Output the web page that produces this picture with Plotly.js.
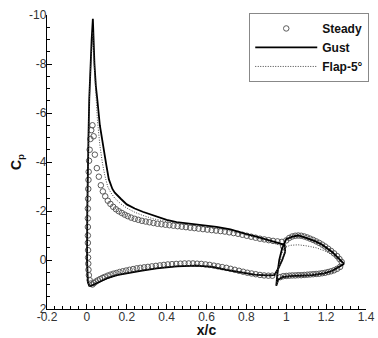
<!DOCTYPE html>
<html>
<head>
<meta charset="utf-8">
<script src="https://cdn.plot.ly/plotly-3.0.1.min.js"></script>
<style>
  html, body { margin: 0; padding: 0; background: #fff; }
  #chart { width: 378px; height: 338px; }
</style>
</head>
<body>
<div id="chart"></div>
<script>
// ---------- Data ----------
// Steady (open circles): main element, then flap
const steadyMainX = [
  0.978,0.956,0.934,0.912,0.890,0.868,0.846,0.824,0.802,0.780,0.758,0.736,0.714,0.692,0.670,0.648,0.626,0.604,0.582,0.560,
  0.539,0.518,0.497,0.476,0.455,0.434,0.414,0.394,0.374,0.354,0.334,0.314,0.295,0.276,0.258,0.240,0.222,0.205,0.190,0.175,
  0.160,0.146,0.132,0.118,0.105,0.092,0.080,0.070,0.060,0.050,0.040,0.034,0.028,0.022,
  0.018,0.014,0.011,0.009,0.008,0.007,0.006,0.005,0.005,0.005,0.005,0.005,0.006,0.006,0.007,0.008,0.010,0.014,0.020,
  0.028,0.036,0.045,0.055,0.066,0.078,0.090,0.104,0.118,0.133,0.148,0.164,0.180,0.197,0.214,0.232,0.250,0.268,0.287,0.306,
  0.326,0.346,0.366,0.386,0.406,0.427,0.448,0.469,0.490,0.511,0.532,0.553,0.574,0.595,0.616,0.637,0.658,0.679,0.700,0.721,
  0.742,0.763,0.784,0.805,0.826,0.847,0.868,0.889,0.910,0.930
];
const steadyMainCp = [
  -0.74,-0.76,-0.78,-0.81,-0.84,-0.87,-0.91,-0.95,-0.99,-1.03,-1.07,-1.10,-1.13,-1.16,-1.18,-1.20,-1.22,-1.24,-1.26,-1.28,
  -1.30,-1.32,-1.34,-1.36,-1.38,-1.40,-1.42,-1.44,-1.46,-1.48,-1.51,-1.54,-1.57,-1.60,-1.64,-1.68,-1.73,-1.79,-1.85,-1.92,
  -1.99,-2.07,-2.17,-2.29,-2.42,-2.60,-2.80,-3.05,-3.40,-3.75,-4.30,-5.05,-5.50,-5.30,
  -4.94,-4.50,-4.05,-3.60,-3.27,-2.90,-2.50,-2.10,-1.70,-1.35,-1.00,-0.70,-0.40,-0.10,0.15,0.40,0.62,0.82,0.96,
  1.00,0.94,0.88,0.83,0.78,0.73,0.69,0.64,0.60,0.56,0.53,0.49,0.46,0.43,0.40,0.37,0.34,0.32,0.30,0.28,
  0.26,0.24,0.22,0.20,0.18,0.17,0.16,0.15,0.14,0.14,0.14,0.15,0.16,0.18,0.20,0.23,0.26,0.29,0.32,0.36,
  0.40,0.44,0.48,0.52,0.55,0.58,0.61,0.63,0.64,0.64
];
const steadyFlapX = [
  0.985,1.000,1.015,1.030,1.045,1.060,1.075,1.090,1.105,1.120,1.135,1.150,1.165,1.180,1.195,1.210,1.225,1.240,1.255,1.267,1.278,
  1.270,1.255,1.240,1.225,1.210,1.195,1.180,1.165,1.150,1.135,1.120,1.105,1.090,1.075,1.060,1.045,1.030,1.015,1.000,0.985,0.970
];
const steadyFlapCp = [
  -0.55,-0.80,-0.90,-0.96,-0.99,-1.00,-0.99,-0.96,-0.92,-0.87,-0.82,-0.76,-0.70,-0.63,-0.55,-0.46,-0.37,-0.27,-0.16,-0.04,0.08,
  0.28,0.36,0.42,0.46,0.49,0.52,0.54,0.56,0.57,0.58,0.59,0.60,0.61,0.62,0.62,0.63,0.63,0.64,0.65,0.66,0.70
];

// Gust (solid line): main element upper TE -> LE -> lower TE, then flap
const gustMainX = [
  0.995,0.990,0.950,0.900,0.850,0.800,0.720,0.650,0.580,0.520,0.450,0.400,0.340,0.280,0.240,0.200,0.170,0.140,0.128,0.110,
  0.098,0.086,0.075,0.065,0.053,0.045,0.038,0.033,0.030,
  0.024,0.017,0.012,0.008,0.004,0.002,0.001,0.002,0.005,0.012,
  0.020,0.040,0.070,0.100,0.150,0.200,0.270,0.350,0.450,0.550,0.630,0.700,0.770,0.840,0.900,0.940,0.960,0.980,0.995
];
const gustMainCp = [
  -0.35,-0.62,-0.72,-0.85,-0.95,-1.06,-1.25,-1.35,-1.42,-1.48,-1.55,-1.64,-1.80,-1.97,-2.10,-2.27,-2.50,-2.75,-2.90,-3.30,
  -3.85,-4.50,-5.00,-5.50,-6.50,-7.10,-8.00,-9.00,-9.85,
  -9.00,-7.90,-6.60,-5.00,-3.40,-2.00,0.00,0.60,0.90,1.05,
  1.05,0.98,0.86,0.75,0.62,0.54,0.44,0.34,0.26,0.23,0.28,0.40,0.50,0.60,0.63,0.62,0.35,0.00,-0.35
];
const gustFlapX = [
  1.290,1.270,1.230,1.180,1.150,1.100,1.060,1.030,1.000,0.980,0.965,0.955,0.950,
  0.960,0.980,1.020,1.070,1.130,1.190,1.230,1.260,1.290
];
const gustFlapCp = [
  0.16,0.00,-0.33,-0.62,-0.75,-0.90,-1.00,-0.95,-0.85,-0.50,0.00,0.60,1.05,
  0.80,0.70,0.66,0.64,0.62,0.55,0.45,0.30,0.16
];

// Flap-5° (dotted line): main element, then flap
const flapMainX = [
  0.995,0.990,0.900,0.800,0.700,0.600,0.500,0.400,0.334,0.280,0.240,0.200,0.169,0.140,0.120,0.105,0.090,0.078,0.065,0.053,
  0.043,0.036,0.030,
  0.024,0.017,0.012,0.008,0.004,0.002,0.001,0.002,0.005,0.012,
  0.020,0.040,0.070,0.100,0.150,0.200,0.270,0.350,0.450,0.550,0.630,0.700,0.770,0.840,0.900,0.940,0.960,0.980,0.995
];
const flapMainCp = [
  -0.30,-0.55,-0.78,-1.02,-1.22,-1.35,-1.45,-1.57,-1.68,-1.82,-1.95,-2.12,-2.30,-2.52,-2.75,-2.98,-3.45,-3.95,-4.70,-5.70,
  -6.90,-8.10,-9.30,
  -8.60,-7.60,-6.40,-4.90,-3.30,-1.90,0.00,0.60,0.90,1.04,
  1.04,0.96,0.84,0.73,0.60,0.52,0.42,0.32,0.24,0.21,0.26,0.38,0.48,0.58,0.62,0.61,0.35,0.00,-0.30
];
const flapFlapX = [
  1.280,1.240,1.200,1.150,1.100,1.060,1.020,0.990,0.975,0.960,0.950,
  0.970,1.000,1.100,1.200,1.250,1.280
];
const flapFlapCp = [
  0.12,-0.15,-0.35,-0.50,-0.58,-0.62,-0.60,-0.50,-0.20,0.40,1.00,
  0.72,0.68,0.64,0.55,0.40,0.12
];

// Axis ticks
const xTickVals = [-0.2, 0, 0.2, 0.4, 0.6, 0.8, 1, 1.2, 1.4];
const xTickText = ["-0.2", "0", "0.2", "0.4", "0.6", "0.8", "1", "1.2", "1.4"];
const yTickVals = [-10, -8, -6, -4, -2, 0, 2];
const yTickText = ["-10", "-8", "-6", "-4", "-2", "0", "2"];

// ---------- Build traces ----------
const joinParts = (a, b) => a.concat([null], b);

const traces = [
  {
    name: "Steady",
    x: joinParts(steadyMainX, steadyFlapX),
    y: joinParts(steadyMainCp, steadyFlapCp),
    mode: "markers",
    type: "scatter",
    marker: { symbol: "circle-open", size: 5.5, color: "#5a5a5a", line: { width: 1, color: "#5a5a5a" } },
    hoverinfo: "skip"
  },
  {
    name: "Gust",
    x: joinParts(gustMainX, gustFlapX),
    y: joinParts(gustMainCp, gustFlapCp),
    mode: "lines",
    type: "scatter",
    line: { color: "#000000", width: 1.8 },
    connectgaps: false,
    hoverinfo: "skip"
  },
  {
    name: "Flap-5°",
    x: joinParts(flapMainX, flapFlapX),
    y: joinParts(flapMainCp, flapFlapCp),
    mode: "lines",
    type: "scatter",
    line: { color: "#444444", width: 1, dash: "1px,1.5px" },
    connectgaps: false,
    hoverinfo: "skip"
  }
];

const fontFam = "Liberation Sans, Arial, sans-serif";

const layout = {
  width: 378,
  height: 338,
  margin: { l: 47, r: 9, t: 15, b: 29, pad: 0 },
  paper_bgcolor: "#ffffff",
  plot_bgcolor: "#ffffff",
  font: { family: fontFam, size: 12, color: "#222222" },
  showlegend: true,
  legend: {
    x: 0.634, y: 1.007, xanchor: "left", yanchor: "top",
    bgcolor: "#ffffff", bordercolor: "#888888", borderwidth: 1,
    font: { family: fontFam, size: 12, color: "#111111", weight: "bold" },
    itemwidth: 62,
    tracegroupgap: 0
  },
  xaxis: {
    range: [-0.2, 1.4],
    tickmode: "array", tickvals: xTickVals, ticktext: xTickText,
    ticks: "inside", ticklen: 5, tickwidth: 1, tickcolor: "#000000",
    ticklabelstandoff: -4,
    showline: true, linecolor: "#000000", linewidth: 1.2,
    showgrid: false, zeroline: false, mirror: false,
    tickfont: { family: fontFam, size: 12, color: "#333333" },
    minor: { ticks: "inside", ticklen: 3, tickwidth: 1, tickcolor: "#000000", dtick: 0.04, tick0: 0, showgrid: false },
    title: { text: "x/c", font: { family: fontFam, size: 14, color: "#111111", weight: "bold" }, standoff: 8 }
  },
  yaxis: {
    range: [2, -10],
    autorange: false,
    tickmode: "array", tickvals: yTickVals, ticktext: yTickText,
    ticks: "inside", ticklen: 5, tickwidth: 1, tickcolor: "#000000",
    ticklabelstandoff: -3,
    showline: true, linecolor: "#000000", linewidth: 1.2,
    showgrid: false, zeroline: false, mirror: false,
    tickfont: { family: fontFam, size: 12, color: "#333333" },
    minor: { ticks: "inside", ticklen: 3, tickwidth: 1, tickcolor: "#000000", dtick: 0.5, tick0: 0, showgrid: false },
    title: { text: "C<sub>p</sub>", font: { family: fontFam, size: 14, color: "#111111", weight: "bold" }, standoff: 4 }
  }
};

Plotly.newPlot("chart", traces, layout, { staticPlot: true, displayModeBar: false });
</script>
</body>
</html>
